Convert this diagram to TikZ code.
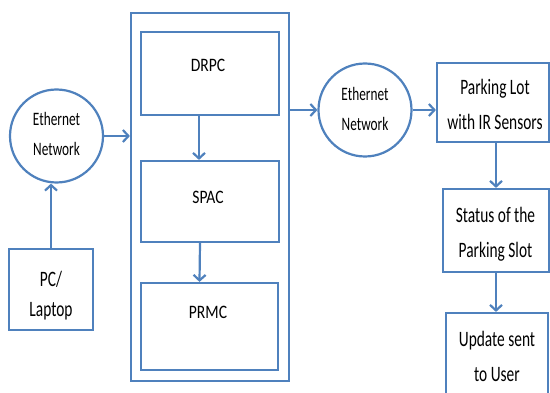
\documentclass[tikz,border=0pt]{standalone}
\usepackage{fontspec}
\usetikzlibrary{arrows.meta}
\newfontfamily\lblfont[FakeStretch=0.7]{Carlito}
\newfontfamily\midfont[FakeStretch=0.82]{Carlito}
\definecolor{ln}{RGB}{79,129,189}
\tikzset{
  blk/.style={draw=ln, line width=2.2pt, rectangle, inner sep=0pt},
  net/.style={draw=ln, line width=2.2pt, circle, inner sep=0pt, minimum size=93pt},
  flow/.style={draw=ln, line width=2.2pt, -{Straight Barb[length=5.5pt,width=12pt]}},
  txt/.style={align=center, inner sep=0pt, text=black, font=\lblfont\fontsize{22}{35}\selectfont},
  nettxt/.style={align=center, inner sep=0pt, text=black, font=\lblfont\fontsize{19}{30}\selectfont},
  midtxt/.style={inner sep=0pt, text=black, font=\midfont\fontsize{19}{24}\selectfont},
}
\begin{document}
\begin{tikzpicture}[x=1pt,y=-1pt]
\useasboundingbox (0,0) rectangle (550,393);

% central block with its three stages
\node[blk, minimum width=158pt, minimum height=368pt] (big) at (210,197) {};
\node[blk, minimum width=138pt, minimum height=83pt] (drpc) at (210,73.5) {};
\node[blk, minimum width=138pt, minimum height=81pt] (spac) at (210,201.5) {};
\node[blk, minimum width=137pt, minimum height=87pt] (prmc) at (209.5,326.5) {};
\node[midtxt] (drpcT) at (208,65) {DRPC};
\node[midtxt] (spacT) at (208,197) {SPAC};
\node[midtxt] (prmcT) at (208,312) {PRMC};

% left side
\node[net] (eth1) at (56.5,136) {};
\node[nettxt] (eth1T) at (56.5,134) {Ethernet\\Network};
\node[blk, minimum width=84pt, minimum height=81pt] (pc) at (51,289.5) {};
\node[txt, font=\lblfont\fontsize{22}{30}\selectfont] (pcT) at (51,296) {PC/\\Laptop};

% right side
\node[net] (eth2) at (365,110) {};
\node[nettxt] (eth2T) at (365,109) {Ethernet\\Network};
\node[blk, minimum width=112pt, minimum height=79pt] (park) at (493,102.5) {};
\node[txt] (parkT) at (495,104.5) {Parking Lot\\with IR Sensors};
\node[blk, minimum width=106pt, minimum height=83pt] (status) at (496,230.5) {};
\node[txt] (statusT) at (495.5,234) {Status of the\\Parking Slot};
\node[blk, minimum width=102pt, minimum height=86pt] (update) at (497,356) {};
\node[txt] (updateT) at (497,356) {Update sent\\to User};

% connectors
\draw[flow] (pc.north) -- (pc.north |- eth1.south);
\draw[flow] (eth1.east) -- (eth1.east -| big.west);
\draw[flow] ([xshift=-11pt]drpc.south) -- ([xshift=-11pt]spac.north);
\draw[flow] ([xshift=-10pt]spac.south) -- ([xshift=-10pt]prmc.north);
\draw[flow] (big.east |- eth2.west) -- (eth2.west);
\draw[flow] (eth2.east) -- (eth2.east -| park.west);
\draw[flow] (status.north |- park.south) -- (status.north);
\draw[flow] (status.south) -- (status.south |- update.north);
\end{tikzpicture}
\end{document}
